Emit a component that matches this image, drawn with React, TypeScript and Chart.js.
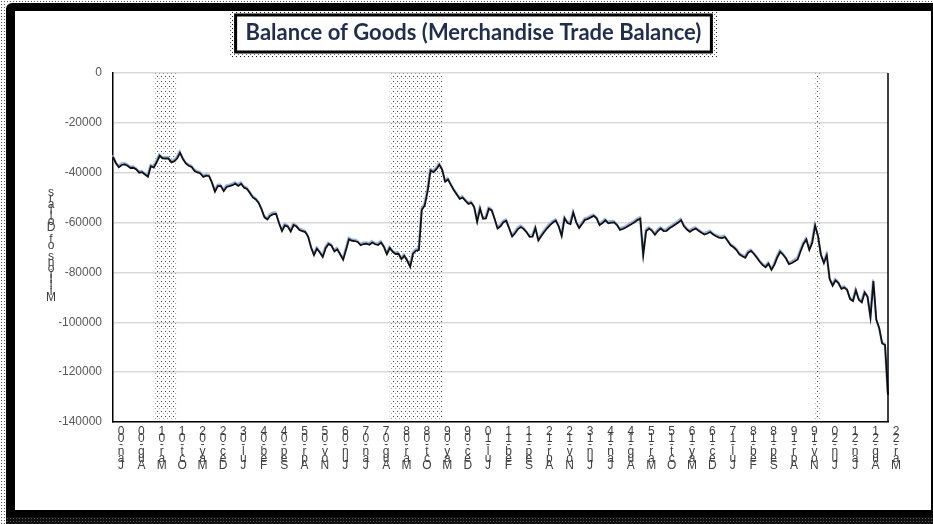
import React, { useEffect, useRef } from "react";
import { Chart, registerables } from "chart.js";

Chart.register(...registerables);

// ---- data ----
const monthNames = ["Jan", "Feb", "Mar", "Apr", "May", "Jun", "Jul", "Aug", "Sep", "Oct", "Nov", "Dec"];
const categories: string[] = [];
for (let y = 2000; y <= 2022; y++) {
  for (let m = 0; m < 12; m++) {
    if (y === 2022 && m > 2) break;
    categories.push(`${monthNames[m]}-${String(y % 100).padStart(2, "0")}`);
  }
}

const tickLabels = [
  "Jan-00", "Aug-00", "Mar-01", "Oct-01", "May-02", "Dec-02", "Jul-03", "Feb-04", "Sep-04", "Apr-05",
  "Nov-05", "Jun-06", "Jan-07", "Aug-07", "Mar-08", "Oct-08", "May-09", "Dec-09", "Jul-10", "Feb-11",
  "Sep-11", "Apr-12", "Nov-12", "Jun-13", "Jan-14", "Aug-14", "Mar-15", "Oct-15", "May-16", "Dec-16",
  "Jul-17", "Feb-18", "Sep-18", "Apr-19", "Nov-19", "Jun-20", "Jan-21", "Aug-21", "Mar-22",
];

const recessions: [string, string][] = [
  ["Mar-01", "Nov-01"],
  ["Dec-07", "Jun-09"],
  ["Feb-20", "Apr-20"],
];

const goodsBalance = [
  // 2000
  -33600, -36200, -37800, -36900, -36700, -37200, -38100, -38000, -38700, -40000, -39800, -40700,
  // 2001
  -41600, -37400, -37900, -35800, -33200, -34200, -34300, -34300, -35800, -35500, -34300, -32000,
  // 2002
  -34500, -36300, -37200, -37700, -39300, -39900, -40300, -41700, -41200, -41400, -44100, -47600,
  // 2003
  -45400, -45300, -47400, -45700, -45400, -45000, -44400, -45300, -44400, -46000, -46500, -48100,
  // 2004
  -49900, -50700, -52100, -54700, -57900, -58800, -57200, -56600, -56500, -60300, -63400, -61100,
  // 2005
  -61600, -63600, -61000, -61600, -63000, -63400, -63800, -65700, -70000, -73100, -70500, -72000,
  // 2006
  -73800, -70300, -68600, -69300, -71600, -70700, -72800, -74900, -70900, -66700, -67300, -67400,
  // 2007
  -67800, -69100, -68600, -68500, -68900, -68000, -68700, -69000, -68000, -69800, -72700, -70200,
  // 2008
  -71700, -72600, -72500, -74700, -73300, -75300, -77800, -72500, -71300, -71000, -54900, -53100,
  // 2009
  -47400, -39100, -39800, -38600, -36800, -38800, -43600, -42700, -45000, -47000, -48700, -50500,
  // 2010
  -50000, -51300, -52500, -52100, -53900, -59700, -54400, -58500, -58300, -54500, -55100, -58600,
  // 2011
  -62400, -61500, -59900, -59300, -62400, -65600, -64300, -62600, -61800, -62600, -64000, -65700,
  // 2012
  -65600, -62200, -67200, -65400, -63800, -62300, -61000, -60000, -59200, -61600, -65400, -58300,
  // 2013
  -60200, -60600, -56000, -59900, -62200, -60600, -58900, -58500, -57900, -57300, -58300, -61000,
  // 2014
  -60200, -59100, -60300, -60000, -59900, -61000, -62900, -62500, -62000, -61300, -60600, -59900,
  // 2015
  -59000, -58400, -73000, -63400, -62400, -63300, -64900, -63400, -62400, -63400, -63300, -62300,
  // 2016
  -61600, -60800, -60000, -59000, -61500, -62800, -63700, -62900, -62400, -63300, -64100, -64800,
  // 2017
  -64400, -63800, -64800, -65500, -66000, -66200, -65800, -67400, -69100, -69900, -71000, -72700,
  // 2018
  -73500, -74100, -72100, -71400, -72600, -74100, -75700, -77100, -77900, -76500, -79000, -77000,
  // 2019
  -74000, -71700, -72900, -74400, -76700, -76200, -75500, -74800, -71500, -68600, -66800, -71000,
  // 2020
  -68100, -61200, -65500, -73000, -76300, -73100, -82700, -85300, -83200, -84300, -86600, -86100,
  // 2021
  -87100, -90700, -91500, -87200, -91000, -92000, -88100, -89800, -98000, -83500, -99000, -102400,
  // 2022
  -108500, -109100, -129100,
];

const yMin = -140000;
const yMax = 0;
const yStep = 20000;

const chartTitle = "Balance of Goods (Merchandise Trade Balance)";
const yAxisTitle = "Millions of Dollars";

function makeDotPattern(ctx: CanvasRenderingContext2D, w: number, h: number, dots: [number, number, string][]) {
  const c = document.createElement("canvas");
  c.width = w;
  c.height = h;
  const p = c.getContext("2d")!;
  for (const [x, y, col] of dots) {
    p.fillStyle = col;
    p.fillRect(x, y, 1, 1);
  }
  return ctx.createPattern(c, "repeat")!;
}

const shown = new Set(tickLabels);

export default function App() {
  const ref = useRef<HTMLCanvasElement | null>(null);

  useEffect(() => {
    const canvas = ref.current!;
    const ctx0 = canvas.getContext("2d")!;
    const recPattern = makeDotPattern(ctx0, 4, 5, [[1, 1, "rgba(0,0,0,0.75)"], [3, 3, "rgba(0,0,0,0.35)"]]);
    const shadowPattern = makeDotPattern(ctx0, 4, 4, [[0, 0, "rgba(0,0,0,0.9)"], [2, 2, "rgba(0,0,0,0.6)"]]);

    const decorPlugin = {
      id: "decor",
      beforeDraw(chart: any) {
        const ctx = chart.ctx as CanvasRenderingContext2D;
        ctx.save();
        ctx.font = "bold 22px Lato";
        const w = ctx.measureText(chartTitle).width;
        const center = 473.5;
        const left = center - w / 2 - 10;
        const right = center + w / 2 + 10;
        const top = 15;
        const bottom = 52;
        ctx.fillStyle = shadowPattern;
        ctx.fillRect(left - 6, top - 6, right - left + 12, bottom - top + 12);
        ctx.fillStyle = "#ffffff";
        ctx.fillRect(left, top, right - left, bottom - top);
        ctx.strokeStyle = "#000000";
        ctx.lineWidth = 3;
        ctx.strokeRect(left, top, right - left, bottom - top);
        ctx.restore();
      },
      beforeDatasetsDraw(chart: any) {
        const ctx = chart.ctx as CanvasRenderingContext2D;
        const xs = chart.scales.x;
        const area = chart.chartArea;
        ctx.save();
        ctx.fillStyle = recPattern;
        for (const [s, e] of recessions) {
          const x1 = xs.getPixelForValue(categories.indexOf(s));
          const x2 = xs.getPixelForValue(categories.indexOf(e));
          ctx.fillRect(x1, area.top, x2 - x1, area.bottom - area.top);
        }
        ctx.restore();
      },
      beforeDatasetDraw(chart: any) {
        const ctx = chart.ctx as CanvasRenderingContext2D;
        ctx.save();
        ctx.shadowColor = "#8eaadb";
        ctx.shadowOffsetX = -0.5;
        ctx.shadowOffsetY = -1.6;
        ctx.shadowBlur = 0.8;
      },
      afterDatasetDraw(chart: any) {
        chart.ctx.restore();
      },
      afterDraw(chart: any) {
        const ctx = chart.ctx as CanvasRenderingContext2D;
        const area = chart.chartArea;
        ctx.save();
        ctx.strokeStyle = "#000000";
        ctx.lineWidth = 1.5;
        ctx.beginPath();
        ctx.moveTo(area.right, area.top);
        ctx.lineTo(area.right, area.bottom);
        ctx.stroke();
        // stacked y-axis title
        ctx.font = "12px 'Liberation Sans'";
        ctx.fillStyle = "#404040";
        ctx.textAlign = "center";
        ctx.textBaseline = "middle";
        const chars = yAxisTitle.split("").reverse();
        chars.forEach((c, k) => ctx.fillText(c, 51, 193 + k * 5.8));
        ctx.restore();
      },
    };

    const chart = new Chart(canvas, {
      type: "line",
      data: {
        labels: categories,
        datasets: [
          {
            label: "Balance of Goods",
            data: goodsBalance,
            borderColor: "#111111",
            borderWidth: 1.8,
            pointRadius: 0,
            tension: 0,
            fill: false,
          },
        ],
      },
      options: {
        animation: false,
        responsive: false,
        maintainAspectRatio: false,
        layout: { padding: { left: 59, right: 45, top: 0, bottom: 0 } },
        plugins: {
          legend: { display: false },
          tooltip: { enabled: false },
          title: {
            display: true,
            text: chartTitle,
            color: "#1f2d4f",
            font: { family: "Lato", size: 22, weight: "bold", lineHeight: 1.2 },
            padding: { top: 20, bottom: 26.6 },
          },
        },
        scales: {
          x: {
            type: "category",
            grid: { display: false, drawTicks: false },
            border: { display: true, color: "#000000", width: 1.5 },
            ticks: {
              autoSkip: false,
              maxRotation: 0,
              minRotation: 0,
              padding: 6,
              labelOffset: 8,
              color: "#404040",
              font: { family: "Liberation Sans", size: 12, lineHeight: 0.57 },
              callback: (_v: any, i: number) => {
                const c = categories[i];
                return shown.has(c) ? c.split("").reverse() : null;
              },
            },
            afterFit: (scale: any) => {
              scale.height = 102;
            },
          },
          y: {
            min: yMin,
            max: yMax,
            grid: { color: "#d9d9d9", lineWidth: 1.5, drawTicks: false },
            border: { display: true, color: "#000000", width: 1.5 },
            ticks: {
              stepSize: yStep,
              padding: 11,
              color: "#595959",
              font: { family: "Liberation Sans", size: 12 },
              callback: (v: any) => String(v),
            },
            afterFit: (scale: any) => {
              scale.width = 54;
            },
          },
        },
      },
      plugins: [decorPlugin],
    });
    return () => chart.destroy();
  }, []);

  const dots = {
    backgroundImage: "radial-gradient(circle, #555 0.7px, transparent 1px)",
    backgroundSize: "3px 3px",
  };

  return (
    <div style={{ position: "fixed", left: 0, top: 0, width: 933, height: 524, background: "#fff", overflow: "hidden" }}>
      <div style={{ position: "absolute", left: 0, top: 0, width: 933, height: 4, ...dots }} />
      <div style={{ position: "absolute", left: 0, top: 0, width: 6, height: 524, ...dots }} />
      <div style={{ position: "absolute", left: 6, top: 3, width: 927, height: 521, background: "#000", borderTopLeftRadius: 6 }} />
      <div style={{ position: "absolute", left: 6, top: 517, width: 927, height: 7, ...dots, backgroundColor: "#111" }} />
      <div style={{ position: "absolute", left: 15, top: 11, width: 916, height: 499, background: "#fff" }} />
      <canvas ref={ref} width={933} height={524} style={{ position: "absolute", left: 0, top: 0, width: 933, height: 524 }} />
    </div>
  );
}
